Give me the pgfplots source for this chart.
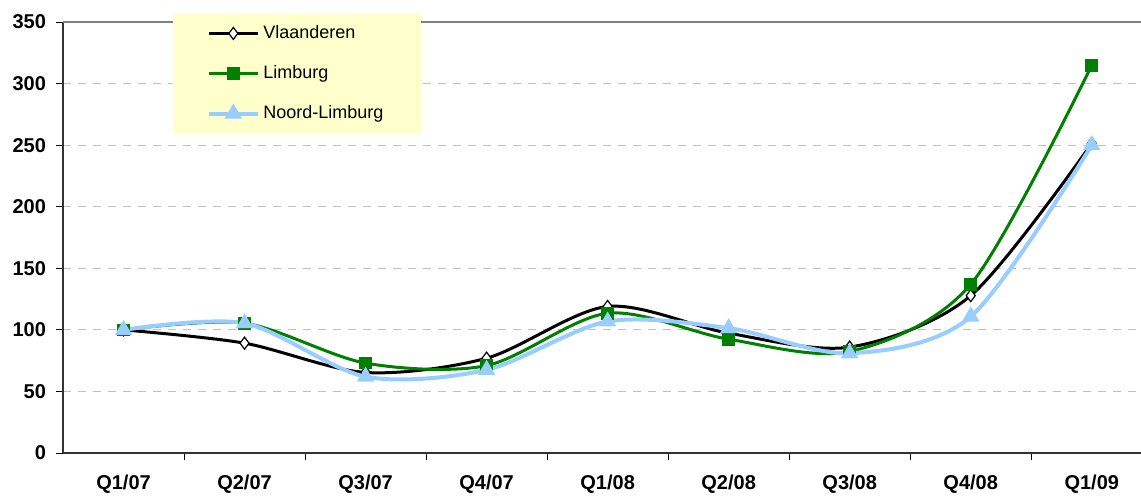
\documentclass[border=0pt]{standalone}
\usepackage{fontspec}
\setmainfont{Liberation Sans}
\usepackage{pgfplots}
\pgfplotsset{compat=1.18}
\definecolor{lgreen}{HTML}{008000}
\definecolor{lblue}{HTML}{99CCFF}
\definecolor{legbg}{HTML}{FFFFCC}
\definecolor{gridgray}{HTML}{C0C0C0}
\begin{document}
\begin{tikzpicture}
\useasboundingbox (-31.5pt,-21pt) rectangle (539pt,226.5pt);
\begin{axis}[
  at={(0,0)}, anchor=south west,
  scale only axis, width=539pt, height=215.5pt,
  xmin=-0.5, xmax=8.407, ymin=0, ymax=350,
  axis x line=bottom, axis y line=left,
  axis line style={-, black!80, line width=0.7pt},
  tick align=outside, major tick length=3.5pt,
  tick style={black, line width=0.5pt},
  xtick={0.5,1.5,...,7.5}, xticklabels={},
  extra x ticks={0,1,2,3,4,5,6,7,8},
  extra x tick labels={Q1/07,Q2/07,Q3/07,Q4/07,Q1/08,Q2/08,Q3/08,Q4/08,Q1/09},
  extra x tick style={major tick length=0pt, xticklabel style={yshift=-7.5pt}},
  ytick={0,50,...,350},
  ymajorgrids, major grid style={gridgray, dash pattern=on 4pt off 3.5pt, line width=0.5pt},
  tick label style={font=\bfseries\fontsize{10}{12}\selectfont},
  yticklabel style={xshift=-1.5pt},
  /pgf/number format/assume math mode=true,
  legend style={at={(0.102,1.0186)}, anchor=north west, fill=legbg, draw=none,
    font=\fontsize{9}{11}\selectfont, inner xsep=17pt, inner ysep=3.5pt, row sep=8pt},
  legend cell align=left,
  legend image code/.code={\draw[mark repeat=2,mark phase=2] plot coordinates {(0pt,0pt) (12pt,0pt) (24pt,0pt)};},
  clip=false,
]
\draw[gray, line width=0.6pt] (axis cs:-0.5,350) -- (axis cs:8.407,350);
\addplot[black, line width=1.5pt, smooth, mark=diamond*, mark size=3pt, mark options={fill=white, line width=0.6pt}]
  coordinates {(0,100) (1,89.2) (2,65.4) (3,77) (4,119) (5,97.3) (6,86) (7,127.8) (8,251.4)};
\addlegendentry{Vlaanderen}
\addplot[lgreen, line width=1.5pt, smooth, mark=square*, mark size=2.4pt, mark options={solid}]
  coordinates {(0,100) (1,105.4) (2,73) (3,71) (4,113.5) (5,92.4) (6,82.4) (7,137) (8,314.9)};
\addlegendentry{Limburg}
\addplot[lblue, line width=2pt, smooth, mark=triangle*, mark size=3pt, mark options={solid}]
  coordinates {(0,100) (1,105.4) (2,62) (3,67.6) (4,106.8) (5,101.4) (6,81) (7,110.8) (8,250)};
\addlegendentry{Noord-Limburg}
\end{axis}
\end{tikzpicture}
\end{document}
